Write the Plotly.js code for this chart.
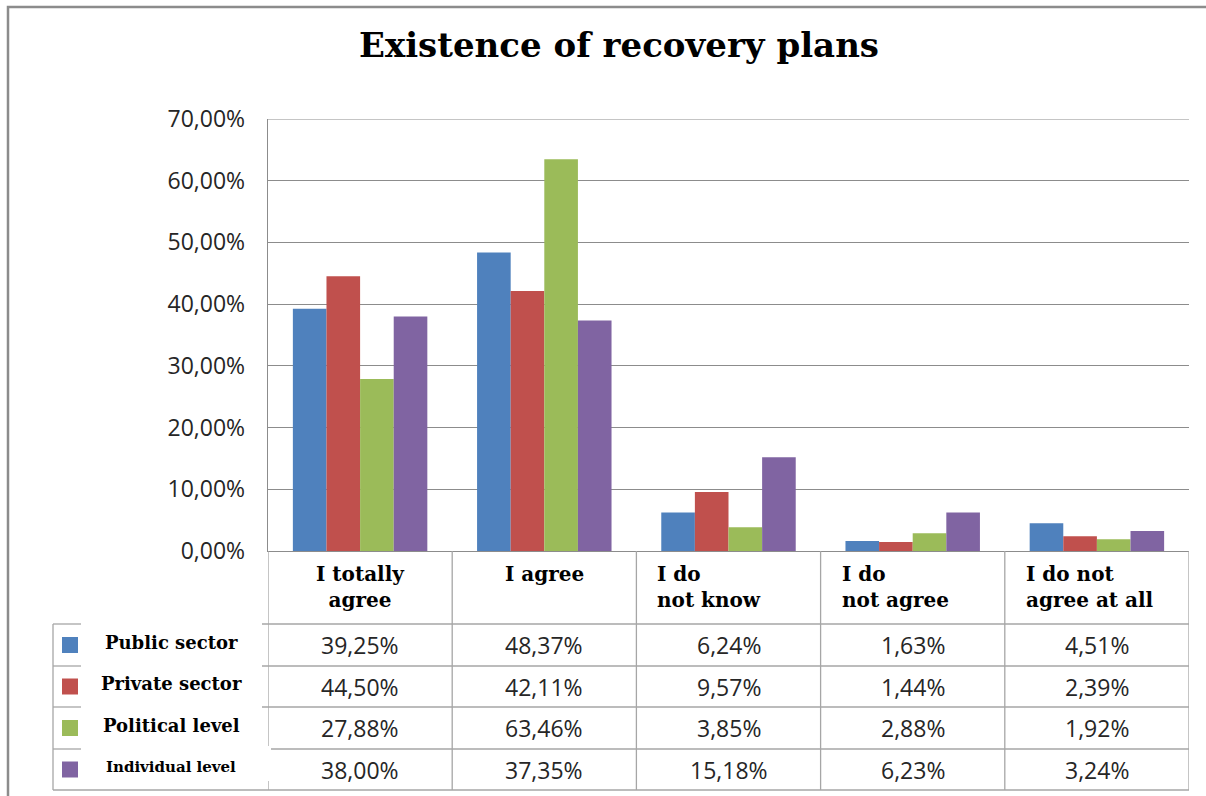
<!DOCTYPE html>
<html><head><meta charset="utf-8">
<script src="https://cdn.plot.ly/plotly-3.0.1.min.js"></script>
<style>body{margin:0;background:#fff}</style>
</head><body><div id="chart" style="width:1206px;height:796px"></div>
<script>
// ---- data ----
const categories = ["I totally agree", "I agree", "I do not know", "I do not agree", "I do not agree at all"];
const headerLabels = ["I totally<br>agree", "I agree", "I do<br>not know", "I do<br>not agree", "I do not<br>agree at all"];
const seriesNames = ["Public sector", "Private sector", "Political level", "Individual level"];
const publicSector = [39.25, 48.37, 6.24, 1.63, 4.51];
const privateSector = [44.50, 42.11, 9.57, 1.44, 2.39];
const politicalLevel = [27.88, 63.46, 3.85, 2.88, 1.92];
const individualLevel = [38.00, 37.35, 15.18, 6.23, 3.24];
const yTickValues = [0, 10, 20, 30, 40, 50, 60, 70];
const titleText = "Existence of recovery plans";

// ---- styles ----
const seriesValues = [publicSector, privateSector, politicalLevel, individualLevel];
const colors = ["#4F81BD", "#C0504D", "#9BBB59", "#8064A2"];
const headerAlign = ["center", "center", "left", "left", "left"];
const legendFontSizes = [18, 18, 18, 15];
const W = 1206, H = 796, L = 268, R = 1189, T = 119, B = 551;
const px = x => (x - L) / (R - L);
const py = y => (B - y) / (B - T);
const rowEdges = [624, 666, 707, 749, 790];
const lineCol = "#a6a6a6";
const gridCol = "#8c8c8c";
const serif = "DejaVu Serif, serif";
const sans = "Open Sans, Noto Sans, sans-serif";
const fmt = v => v.toFixed(2).replace('.', ',') + '%';

const traces = seriesValues.map((vals, i) => ({
  type: 'bar', name: seriesNames[i], x: categories, y: vals,
  marker: {color: colors[i]}
}));

const shapes = [];
const annotations = [];
const n = categories.length;
// outer frame (left + top)
shapes.push({type:'path', xref:'paper', yref:'paper',
  path: `M ${px(8)} ${py(797)} L ${px(8)} ${py(7)} L ${px(1207)} ${py(7)}`,
  line:{color:'#8c8c8c', width:2.5}});
// top gridline (at range edge)
shapes.push({type:'line', xref:'paper', yref:'y', x0:0, x1:1, y0:yTickValues[yTickValues.length-1], y1:yTickValues[yTickValues.length-1],
  line:{color:gridCol, width:1.2}});
// vertical column lines of table
for (let i = 0; i <= n; i++) {
  if (i === 0) {
    shapes.push({type:'line', xref:'x', yref:'paper', x0:-0.5, x1:-0.5, y0:py(B), y1:py(746), line:{color:lineCol, width:1.3}});
    shapes.push({type:'line', xref:'x', yref:'paper', x0:-0.5, x1:-0.5, y0:py(781), y1:py(790), line:{color:lineCol, width:1.3}});
  } else {
    shapes.push({type:'line', xref:'x', yref:'paper', x0:i-0.5, x1:i-0.5, y0:py(B), y1:py(790), line:{color:lineCol, width:1.3}});
  }
}
// legend box left edge
shapes.push({type:'line', xref:'paper', yref:'paper', x0:px(53), x1:px(53), y0:py(624), y1:py(790), line:{color:lineCol, width:1.3}});
// horizontal table lines
rowEdges.forEach((y, k) => {
  if (k === rowEdges.length - 1) {
    shapes.push({type:'line', xref:'paper', yref:'paper', x0:px(53), x1:1, y0:py(y), y1:py(y), line:{color:lineCol, width:1.3}});
  } else {
    shapes.push({type:'line', xref:'paper', yref:'paper', x0:px(53), x1:px(81), y0:py(y), y1:py(y), line:{color:lineCol, width:1.3}});
    shapes.push({type:'line', xref:'paper', yref:'paper', x0:px(k === 3 ? 271 : 262), x1:1, y0:py(y), y1:py(y), line:{color:lineCol, width:1.3}});
  }
});
// header labels
headerLabels.forEach((t, i) => {
  const left = headerAlign[i] === 'left';
  annotations.push({xref:'x', yref:'paper', x: left ? i - 0.5 : i, y: py(560),
    xanchor: left ? 'left' : 'center', yanchor:'top', xshift: left ? 19 : 0,
    align: left ? 'left' : 'center', text: t, showarrow:false,
    font:{family:serif, size:20, color:'#000', weight:'bold'}});
});
// legend keys, names and table values
seriesValues.forEach((vals, r) => {
  const yc = (rowEdges[r] + rowEdges[r+1]) / 2;
  shapes.push({type:'rect', xref:'paper', yref:'paper', x0:px(62), x1:px(78), y0:py(yc-8), y1:py(yc+8),
    fillcolor:colors[r], line:{width:0}});
  annotations.push({xref:'paper', yref:'paper', x:px(171), y:py(yc-3), xanchor:'center', yanchor:'middle',
    text: seriesNames[r], showarrow:false, font:{family:serif, size:legendFontSizes[r], color:'#000', weight:'bold'}});
  vals.forEach((v, i) => {
    annotations.push({xref:'x', yref:'paper', x:i, y:py(yc), xanchor:'center', yanchor:'middle',
      text: fmt(v), showarrow:false, font:{family:sans, size:23, color:'#262626'}});
  });
});

const layout = {
  width: W, height: H, autosize:false,
  margin:{l:L, r:W-R, t:T, b:H-B, pad:0},
  paper_bgcolor:'#fff', plot_bgcolor:'#fff',
  title:{text:titleText, xref:'container', yref:'container', x:619/W, y:1-45/H, xanchor:'center', yanchor:'middle',
    font:{family:serif, size:34, color:'#000', weight:'bold'}},
  barmode:'group', bargap:0.27, bargroupgap:0,
  showlegend:false, hovermode:false,
  xaxis:{type:'category', showticklabels:false, showgrid:false, zeroline:false, showline:true,
    linecolor:gridCol, linewidth:1.3, range:[-0.5, n-0.5], ticks:''},
  yaxis:{range:[0,70], tickmode:'array', tickvals:yTickValues, ticktext:yTickValues.map(fmt), showgrid:true,
    gridcolor:gridCol, gridwidth:1.2, zeroline:false, showline:true, linecolor:gridCol, linewidth:1.3,
    ticks:'', ticklabelstandoff:17, tickfont:{family:sans, size:23, color:'#262626'}},
  shapes: shapes, annotations: annotations
};
Plotly.newPlot('chart', traces, layout, {displayModeBar:false, staticPlot:true});
</script></body></html>
